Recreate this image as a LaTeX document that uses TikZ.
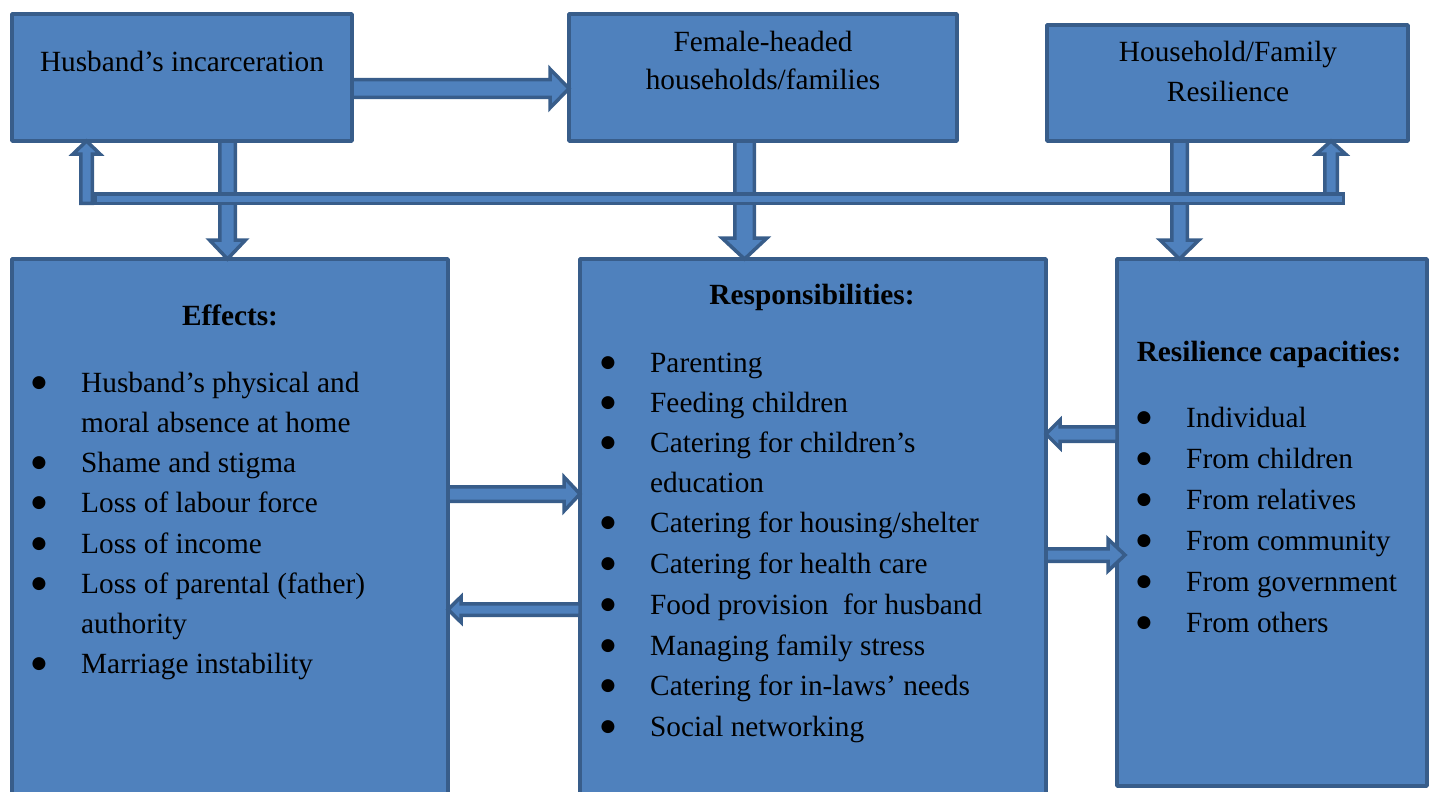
\documentclass[tikz,border=0pt]{standalone}
\usepackage{fontspec}
\setmainfont{Liberation Serif}
\newfontfamily\bulfont{DejaVu Sans}
\usetikzlibrary{calc}
\definecolor{boxfill}{HTML}{4F81BD}
\definecolor{boxline}{HTML}{385D8A}
\newcommand\fsz{\fontsize{29.3}{40}\selectfont}
\tikzset{
 box/.style={draw=boxline, fill=boxfill, line width=3.5pt, line join=round, inner sep=0pt, outer sep=0pt, anchor=north west},
 barrowstyle/.style={draw=boxline, fill=boxfill, line width=3.5pt, line join=miter},
 txt/.style={anchor=base west, inner sep=0pt, font=\fsz},
 ctxt/.style={anchor=base, inner sep=0pt, font=\fsz},
 headtxt/.style={anchor=base, inner sep=0pt, font=\fsz\bfseries},
 bul/.style={anchor=base, inner sep=0pt, yshift=4.5pt, font=\bulfont\fontsize{17}{20}\selectfont}
}
% #1 start, #2 tip, #3 half shaft, #4 half head, #5 head length
\newcommand\blockarrow[5]{%
 \path[barrowstyle] let \p1=(#1), \p2=(#2), \n1={atan2(\y2-\y1,\x2-\x1)}, \n2={veclen(\x2-\x1,\y2-\y1)}, \n3={\n2-#5} in
 ([shift={(\p1)},rotate=\n1]0,#3) -- ([shift={(\p1)},rotate=\n1]\n3,#3) -- ([shift={(\p1)},rotate=\n1]\n3,#4) -- (\p2) -- ([shift={(\p1)},rotate=\n1]\n3,-#4) -- ([shift={(\p1)},rotate=\n1]\n3,-#3) -- ([shift={(\p1)},rotate=\n1]0,-#3) -- cycle;}
\begin{document}
\begin{tikzpicture}[x=1pt,y=-1pt]
\path[use as bounding box] (0,0) rectangle (1435,792);
\clip (0,0) rectangle (1435,792);
% boxes
\node[box, minimum width=340, minimum height=127] (A) at (12,14) {};
\node[box, minimum width=388, minimum height=127] (B) at (569,14) {};
\node[box, minimum width=361, minimum height=116] (C) at (1047,25) {};
\node[box, minimum width=436, minimum height=560] (D) at (12,259) {};
\node[box, minimum width=466, minimum height=560] (E) at (580,259) {};
\node[box, minimum width=310, minimum height=527] (F) at (1117,259) {};
% arrows
\blockarrow{A.east |- 0,88.5}{B.west |- 0,88.5}{8.8}{19.5}{19}
\blockarrow{227.5,0 |- A.south}{227.5,0 |- D.north}{7.75}{18}{19}
\blockarrow{744.5,0 |- B.south}{744.5,0 |- E.north}{9.75}{22.5}{21}
\blockarrow{1179.5,0 |- C.south}{1179.5,0 |- F.north}{7.75}{19.5}{19}
\coordinate (barL) at (86.5,203.25);
\coordinate (barR) at (1331,198);
\blockarrow{barL}{barL |- A.south}{5.75}{13.5}{13}
\blockarrow{barR}{barR |- C.south}{6.25}{14.5}{13}
\node[draw=boxline, fill=boxfill, line width=3.5pt, inner sep=0pt, outer sep=0pt, anchor=north west, minimum width=1248.5, minimum height=9.5] (bar) at (94.75,193.75) {};
\blockarrow{D.east |- 0,494}{E.west |- 0,494}{7.25}{17}{16}
\blockarrow{E.west |- 0,609.5}{D.east |- 0,609.5}{5.75}{12.75}{13}
\blockarrow{F.west |- 0,434}{E.east |- 0,434}{7.25}{14}{14}
\coordinate (tipEF) at (1125,555);
\blockarrow{E.east |- tipEF}{tipEF}{6.25}{16}{17}
% top texts
\node[ctxt] (tA) at (182,72) {Husband’s incarceration};
\node[ctxt] (tB1) at (763,52) {Female-headed};
\node[ctxt] (tB2) at (763,89) {households/families};
\node[ctxt] (tC1) at (1228,62) {Household/Family};
\node[ctxt] (tC2) at (1228,101) {Resilience};
% headings
\node[headtxt] (hD) at (230,325) {Effects:};
\node[headtxt] (hE) at (812,304) {Responsibilities:};
\node[headtxt] (hF) at (1269,361) {Resilience capacities:};
% effects
\foreach \yy/\tt [count=\i] in {392/{Husband’s physical and}, 432/{moral absence at home}, 472/{Shame and stigma}, 512/{Loss of labour force}, 553/{Loss of income}, 593/{Loss of parental (father)}, 633/{authority}, 673/{Marriage instability}}
  \node[txt] (eff\i) at (81,\yy) {\tt};
\foreach \yy [count=\i] in {392,472,512,553,593,673}
  \node[bul] (effb\i) at (39,\yy) {●};
% responsibilities
\foreach \yy/\tt [count=\i] in {372/{Parenting}, 412/{Feeding children}, 452/{Catering for children’s}, 492/{education}, 532/{Catering for housing/shelter}, 573/{Catering for health care}, 614/{Food provision\ \ for husband}, 655/{Managing family stress}, 695/{Catering for in-laws’ needs}, 736/{Social networking}}
  \node[txt] (res\i) at (650,\yy) {\tt};
\foreach \yy [count=\i] in {372,412,452,532,573,614,655,695,736}
  \node[bul] (resb\i) at (608,\yy) {●};
% resilience capacities
\foreach \yy/\tt [count=\i] in {427/{Individual}, 468/{From children}, 509/{From relatives}, 550/{From community}, 591/{From government}, 632/{From others}}
  \node[txt] (cap\i) at (1186,\yy) {\tt};
\foreach \yy [count=\i] in {427,468,509,550,591,632}
  \node[bul] (capb\i) at (1144,\yy) {●};
\end{tikzpicture}
\end{document}
